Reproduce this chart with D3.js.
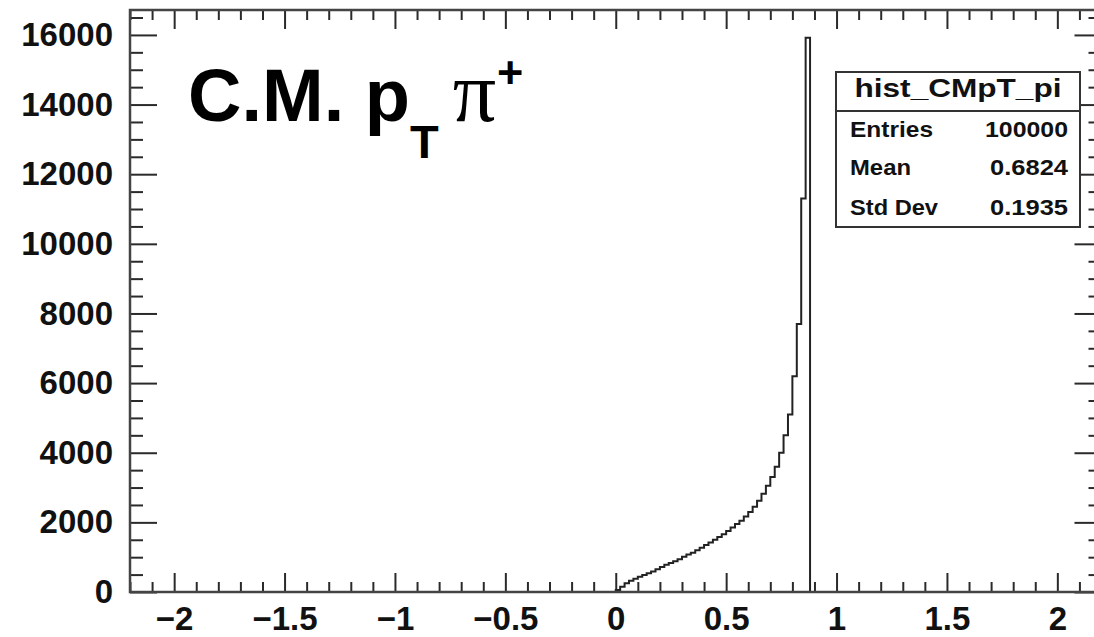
<!DOCTYPE html>
<html>
<head>
<meta charset="utf-8">
<script src="https://cdn.jsdelivr.net/npm/d3@7"></script>
<style>
  html, body { margin: 0; padding: 0; background: #fff; }
  svg { display: block; }
  text { font-family: "Liberation Sans", Arial, Helvetica, sans-serif; }
</style>
</head>
<body>
<svg id="chart" width="1094" height="637"></svg>
<script>
// ---- data ----
const xDomain = [-2.2, 2.2];
const yMax = 16716;
const binLowEdges = [0.00,0.02,0.04,0.06,0.08,0.10,0.12,0.14,0.16,0.18,
                     0.20,0.22,0.24,0.26,0.28,0.30,0.32,0.34,0.36,0.38,
                     0.40,0.42,0.44,0.46,0.48,0.50,0.52,0.54,0.56,0.58,
                     0.60,0.62,0.64,0.66,0.68,0.70,0.72,0.74,0.76,0.78,
                     0.80,0.82,0.84,0.86];
const binUpper = 0.88;
const counts = [60,150,250,320,380,440,490,540,590,650,
                720,780,830,880,940,1010,1080,1130,1200,1270,
                1350,1420,1500,1580,1660,1750,1850,1950,2050,2170,
                2300,2450,2620,2820,3050,3300,3600,4000,4500,5100,
                6200,7700,11300,15920];
const xTicks = [-2, -1.5, -1, -0.5, 0, 0.5, 1, 1.5, 2];
const xTickLabels = ["\u22122", "\u22121.5", "\u22121", "\u22120.5", "0", "0.5", "1", "1.5", "2"];
const yTicks = [0, 2000, 4000, 6000, 8000, 10000, 12000, 14000, 16000];
const yTickLabels = ["0", "2000", "4000", "6000", "8000", "10000", "12000", "14000", "16000"];
const statsTitle = "hist_CMpT_pi";
const statsNames = ["Entries", "Mean", "Std Dev"];
const statsValues = ["100000", "0.6824", "0.1935"];

// ---- layout ----
const L = 130, R = 1101.5, T = 10, B = 592;
const svg = d3.select("#chart");
const x = d3.scaleLinear().domain(xDomain).range([L, R]);
const y = d3.scaleLinear().domain([0, yMax]).range([B, T]);
const ink = "#2a2a2a";

const xMinor = d3.range(-22, 23).map(d => d / 10).filter(v => !xTicks.some(t => Math.abs(t - v) < 1e-9));
const yMinor = d3.range(0, yMax, 500).filter(v => v % 2000 !== 0);

function styleAxis(g, w) {
  g.select(".domain").remove();
  g.selectAll(".tick line").attr("stroke", ink).attr("stroke-width", w);
}
const fmtX = d => xTickLabels[xTicks.indexOf(d)];
const fmtY = d => yTickLabels[yTicks.indexOf(d)];

// bottom axis
const gb = svg.append("g").attr("transform", `translate(0,${B})`)
  .call(d3.axisBottom(x).tickValues(xTicks).tickSize(-19).tickPadding(15).tickFormat(fmtX));
styleAxis(gb, 2);
gb.selectAll("text").attr("fill", "#111").attr("font-size", 33).attr("font-weight", "bold");
const gbm = svg.append("g").attr("transform", `translate(0,${B})`)
  .call(d3.axisBottom(x).tickValues(xMinor).tickSize(-10).tickFormat(""));
styleAxis(gbm, 2);

// top axis
const gt = svg.append("g").attr("transform", `translate(0,${T})`)
  .call(d3.axisTop(x).tickValues(xTicks).tickSize(-19).tickFormat(""));
styleAxis(gt, 2);
const gtm = svg.append("g").attr("transform", `translate(0,${T})`)
  .call(d3.axisTop(x).tickValues(xMinor).tickSize(-10).tickFormat(""));
styleAxis(gtm, 2);

// left axis
const gl = svg.append("g").attr("transform", `translate(${L},0)`)
  .call(d3.axisLeft(y).tickValues(yTicks).tickSize(-27).tickPadding(17).tickFormat(fmtY));
styleAxis(gl, 2);
gl.selectAll("text").attr("fill", "#111").attr("font-size", 33).attr("font-weight", "bold");
const glm = svg.append("g").attr("transform", `translate(${L},0)`)
  .call(d3.axisLeft(y).tickValues(yMinor).tickSize(-13).tickFormat(""));
styleAxis(glm, 2);

// right axis
const gr = svg.append("g").attr("transform", `translate(${R},0)`)
  .call(d3.axisRight(y).tickValues(yTicks).tickSize(-27).tickFormat(""));
styleAxis(gr, 2);
const grm = svg.append("g").attr("transform", `translate(${R},0)`)
  .call(d3.axisRight(y).tickValues(yMinor).tickSize(-13).tickFormat(""));
styleAxis(grm, 2);

// histogram
const pts = [[xDomain[0], 0], [binLowEdges[0], 0]];
binLowEdges.forEach((e, i) => pts.push([e, counts[i]]));
pts.push([binUpper, 0]);
pts.push([xDomain[1], 0]);
const line = d3.line().x(d => x(d[0])).y(d => y(d[1])).curve(d3.curveStepAfter);
svg.append("path").attr("d", line(pts))
  .attr("fill", "none").attr("stroke", "#222").attr("stroke-width", 2);

// frame
svg.append("rect").attr("x", L).attr("y", T).attr("width", R - L).attr("height", B - T)
  .attr("fill", "none").attr("stroke", "#444").attr("stroke-width", 2.5);

// title
const title = svg.append("text").attr("x", 188).attr("y", 121)
  .attr("fill", "#000").attr("font-weight", "bold").attr("font-size", 74);
title.append("tspan").text("C.M. p");
title.append("tspan").attr("dy", 37).attr("font-size", 47).text("T");
title.append("tspan").attr("dy", -37).attr("dx", 14).attr("font-size", 86)
  .attr("font-weight", "normal").attr("font-family", "'Liberation Serif', 'Times New Roman', serif").text("\u03c0");
title.append("tspan").attr("dy", -33).attr("dx", 1).attr("font-size", 45).text("+");

// stats box
const sb = { x: 836, y: 72, w: 244, h: 155, div: 111 };
const gs = svg.append("g");
gs.append("rect").attr("x", sb.x).attr("y", sb.y).attr("width", sb.w).attr("height", sb.h)
  .attr("fill", "#fff").attr("stroke", "#333").attr("stroke-width", 2);
gs.append("line").attr("x1", sb.x).attr("x2", sb.x + sb.w).attr("y1", sb.div).attr("y2", sb.div)
  .attr("stroke", "#333").attr("stroke-width", 2);
gs.append("text").attr("x", sb.x + sb.w / 2).attr("y", 97).attr("text-anchor", "middle")
  .attr("font-size", 25).attr("font-weight", "bold").attr("fill", "#111")
  .attr("textLength", 207).attr("lengthAdjust", "spacingAndGlyphs").text(statsTitle);
const rowY = [137, 175, 215];
const nameW = [83, 61, 88];
const valW = [83, 78, 78];
statsNames.forEach((n, i) => {
  gs.append("text").attr("x", 850).attr("y", rowY[i]).attr("font-size", 21.5).attr("font-weight", "bold")
    .attr("fill", "#111").attr("textLength", nameW[i]).attr("lengthAdjust", "spacingAndGlyphs").text(n);
  gs.append("text").attr("x", 1068 - valW[i]).attr("y", rowY[i]).attr("font-size", 21.5).attr("font-weight", "bold")
    .attr("fill", "#111").attr("textLength", valW[i]).attr("lengthAdjust", "spacingAndGlyphs").text(statsValues[i]);
});
</script>
</body>
</html>
